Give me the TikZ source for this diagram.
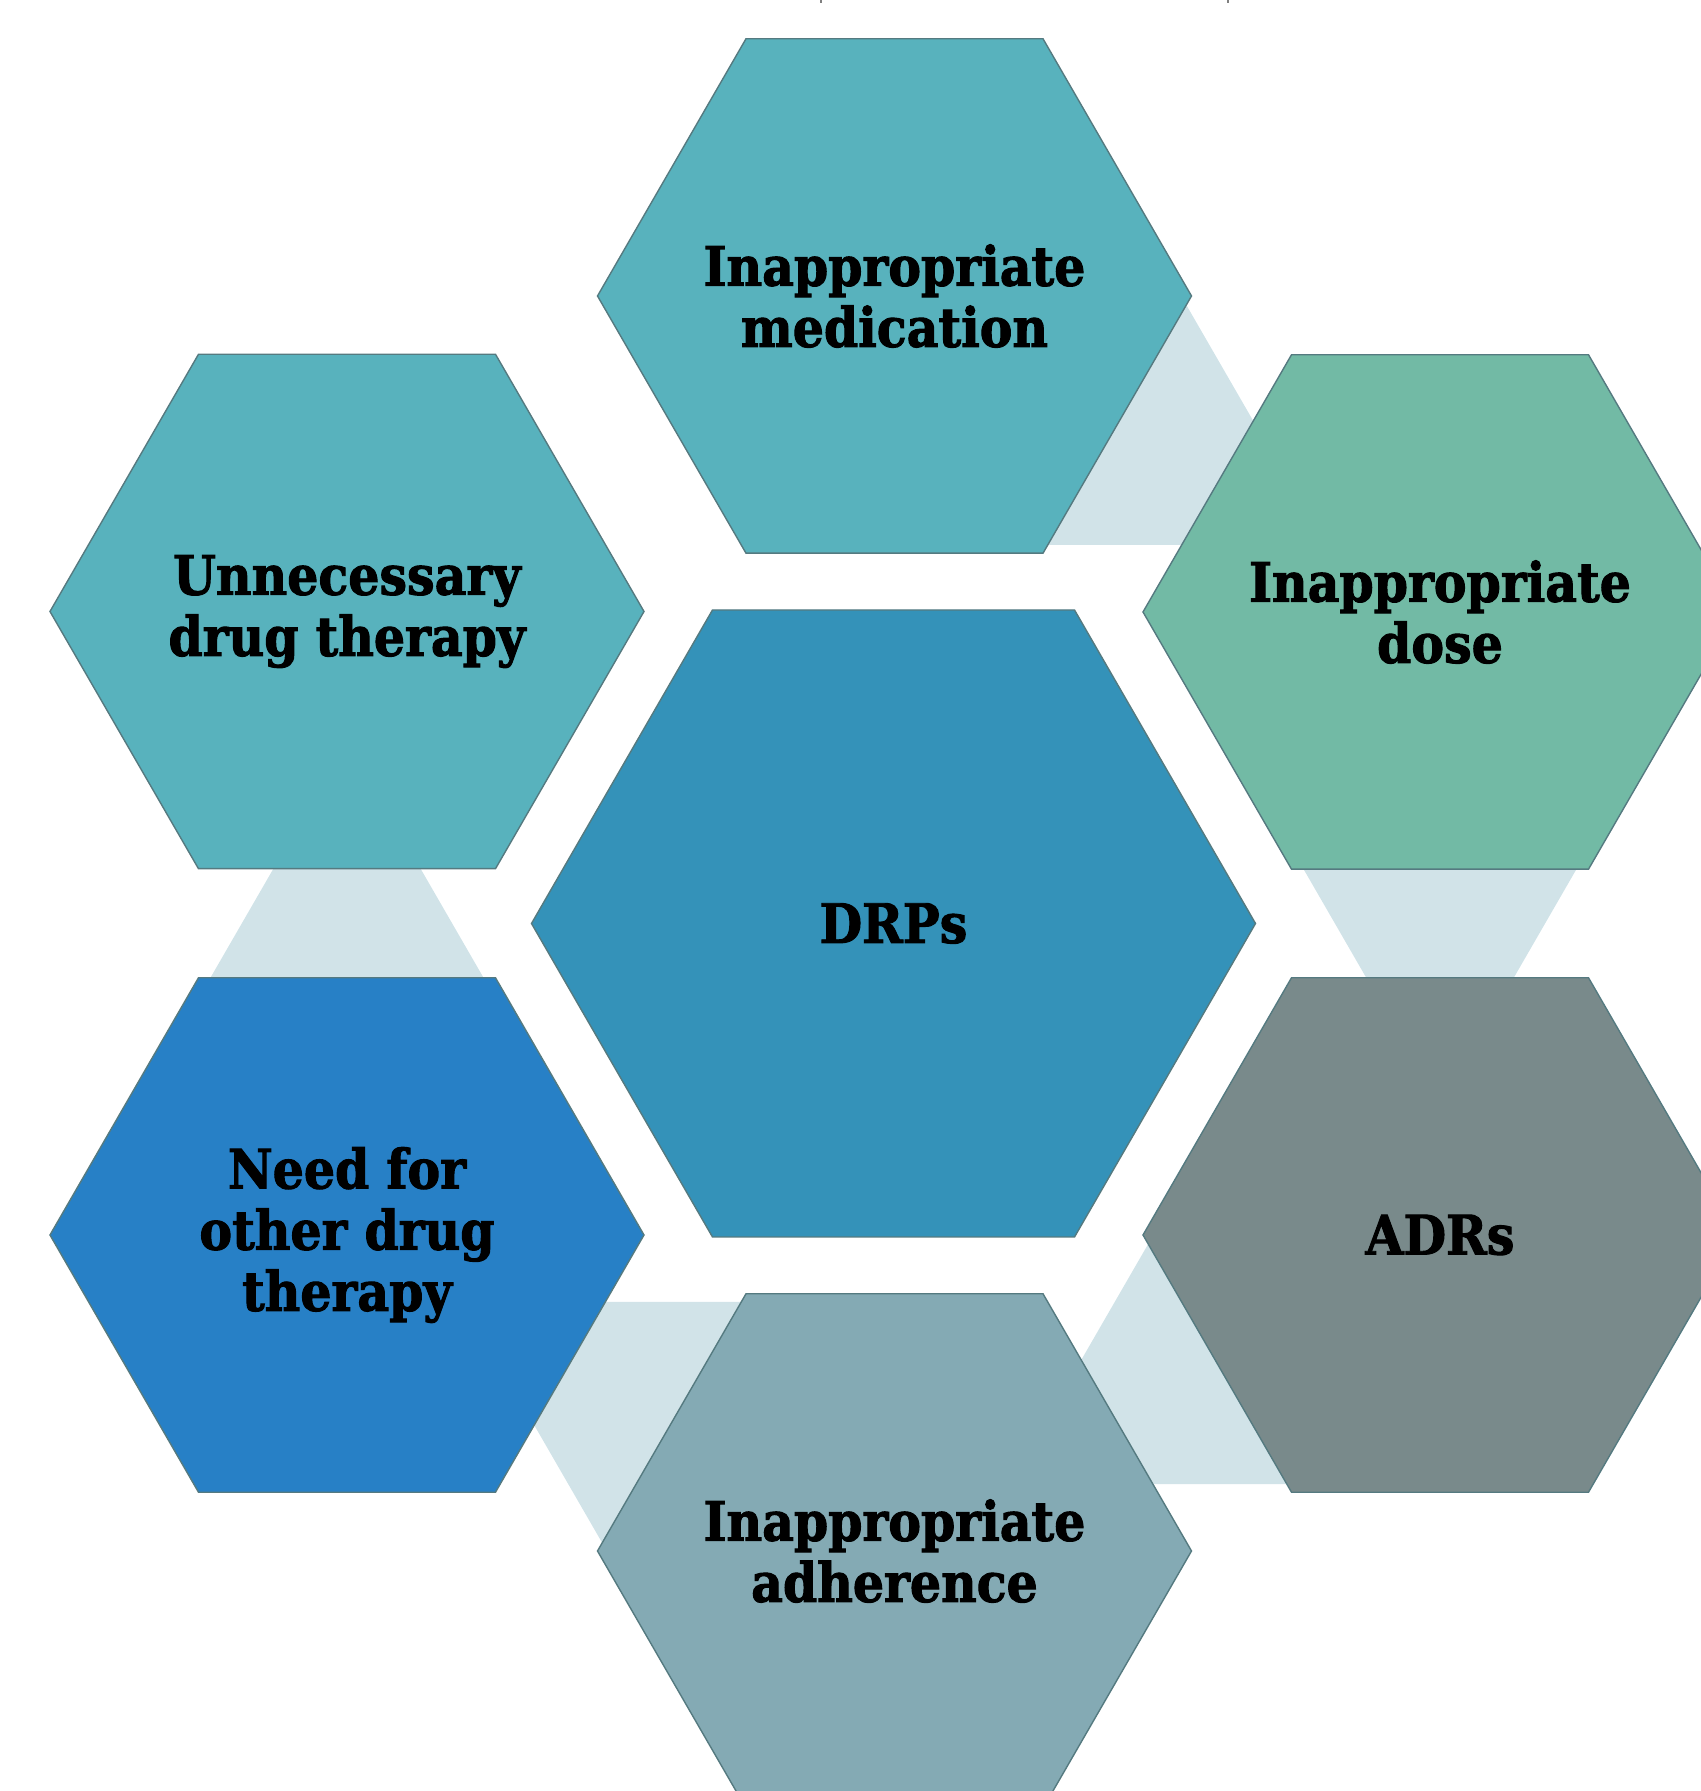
\documentclass[tikz,border=0pt]{standalone}
\usepackage{fontspec}
\usepackage{xcolor}
\usepackage{tikz}
\usetikzlibrary{shapes.geometric,positioning,calc}

\newfontfamily\hexfont[FakeStretch=0.9,FakeBold=1.8]{DejaVu Serif Bold}

\definecolor{medcol}{HTML}{58B2BD}
\definecolor{dosecol}{HTML}{72BAA5}
\definecolor{drpcol}{HTML}{3492B9}
\definecolor{needcol}{HTML}{2780C6}
\definecolor{adrcol}{HTML}{798A8B}
\definecolor{adhcol}{HTML}{84AAB4}
\definecolor{palelink}{HTML}{D1E3E8}
\definecolor{hexline}{HTML}{557A80}

\begin{document}
\begin{tikzpicture}[
			hextext/.style={font=\hexfont\fontsize{15.5}{17.4}\selectfont,align=center,inner sep=0pt},
			hexa/.style={regular polygon,regular polygon sides=6,minimum size=5.94cm,
				inner sep=0pt,draw=hexline,line width=0.4pt,
				label={[hextext]center:{#1}}},
			tri/.style={regular polygon,regular polygon sides=3,minimum size=3.64cm,
				inner sep=0pt,fill=palelink}]
			\useasboundingbox (-8.935,9.235) rectangle (8.065,-8.675);
			
			% centres of the outer ring
			\coordinate (cmed)  at (0.01,6.275);
			\coordinate (cdose) at (5.465,3.115);
			\coordinate (cadr)  at (5.465,-3.115);
			\coordinate (cadh)  at (0.01,-6.275);
			\coordinate (cneed) at (-5.465,-3.115);
			\coordinate (cunn)  at (-5.465,3.12);
			
			% links between neighbours, drawn first so they sit behind
			\node[tri]                          (l1) at ($(cmed)!0.5!(cdose)$)  {};
			\node[tri,shape border rotate=180]  (l2) at ($(cdose)!0.5!(cadr)$)  {};
			\node[tri]                          (l3) at ($(cadr)!0.5!(cadh)$)   {};
			\node[tri,shape border rotate=180]  (l4) at ($(cadh)!0.5!(cneed)$)  {};
			\node[tri]                          (l5) at ($(cneed)!0.5!(cunn)$)  {};
			
			% centre
			\node[hexa={DRPs},fill=drpcol,minimum size=7.24cm] (drp) at (0,0) {};
			
			% outer ring
			\node[hexa={Inappropriate\\medication},fill=medcol]  (med)  at (cmed)  {};
			\node[hexa={Inappropriate\\dose},fill=dosecol]       (dose) at (cdose) {};
			\node[hexa={ADRs},fill=adrcol]                       (adr)  at (cadr)  {};
			\node[hexa={Inappropriate\\adherence},fill=adhcol]   (adh)  at (cadh)  {};
			\node[hexa={Need for\\other drug\\therapy},fill=needcol] (need) at (cneed) {};
			\node[hexa={Unnecessary\\drug therapy},fill=medcol]  (unn)  at (cunn)  {};
			
			\draw[gray,line width=0.5pt] (-0.725,9.235) -- ++(0,-0.03)
				(3.345,9.235) -- ++(0,-0.03);
\end{tikzpicture}
\end{document}
